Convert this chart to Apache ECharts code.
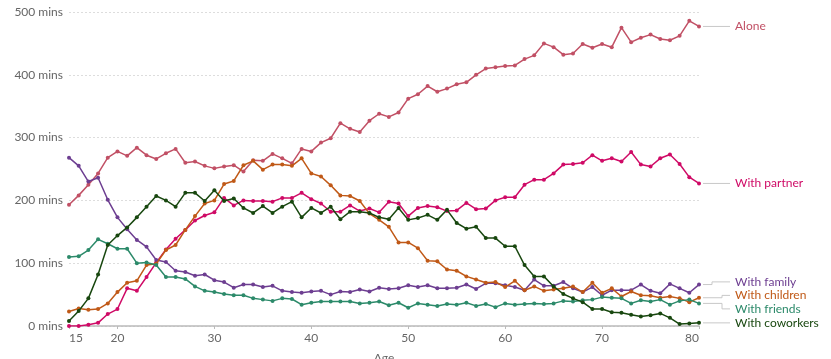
<!DOCTYPE html>
<html><head><meta charset="utf-8">
<script src="https://cdn.jsdelivr.net/npm/echarts@6/dist/echarts.min.js"></script>
<style>html,body{margin:0;padding:0;background:#fff}#c{width:831px;height:359px}</style>
</head><body><div id="c"></div>
<script>
// ---- data ----
const ages = [15,16,17,18,19,20,21,22,23,24,25,26,27,28,29,30,31,32,33,34,35,36,37,38,39,40,41,42,43,44,45,46,47,48,49,50,51,52,53,54,55,56,57,58,59,60,61,62,63,64,65,66,67,68,69,70,71,72,73,74,75,76,77,78,79,80];
const xTickLabels = [15,20,30,40,50,60,70,80];
const yTicks = [0,100,200,300,400,500];

const alone = [193,208,225,243,268,278,271,284,272,266,275,282,260,262,255,251,254,256,246,264,263,274,267,259,282,278,292,299,323,314,309,327,338,333,340,362,369,382,373,378,385,388,400,410,412,414,415,425,431,450,444,432,434,449,443,449,444,475,452,459,464,457,455,462,486,477];
const withPartner = [0,0,2,5,19,27,60,56,78,101,122,139,153,168,176,181,204,192,200,199,199,198,204,204,212,202,195,182,182,192,183,187,181,198,195,175,188,191,189,183,184,196,186,187,200,205,205,225,233,233,243,257,258,260,272,263,267,262,277,257,254,267,273,258,237,227];
const withFamily = [268,255,230,236,201,173,154,137,126,105,102,88,86,80,82,73,70,61,66,66,62,64,56,54,53,55,56,50,55,54,58,55,61,59,60,65,62,65,60,60,61,66,59,68,68,65,62,57,74,64,64,70,60,54,62,49,57,57,57,66,56,52,67,60,53,66];
const withChildren = [23,28,26,27,36,54,69,72,97,99,121,129,153,175,195,200,226,231,256,263,249,257,257,255,267,243,238,224,208,207,199,179,169,158,133,133,124,104,103,90,88,79,74,69,70,62,72,57,63,56,58,60,63,54,69,53,60,47,55,49,48,45,47,44,38,45];
const withFriends = [110,111,121,138,131,123,123,100,101,97,78,78,75,63,56,54,51,49,49,44,42,40,44,43,34,37,39,39,39,39,36,37,39,33,37,29,36,34,32,35,34,37,32,35,30,36,34,35,36,35,36,40,39,41,42,46,45,44,36,41,39,42,34,40,42,36];
const withCoworkers = [8,24,44,82,129,144,157,173,190,207,200,190,212,212,199,216,199,203,188,180,191,180,190,198,173,188,180,190,170,182,182,180,173,170,188,169,172,177,169,185,164,155,158,140,140,127,127,97,79,79,63,51,44,38,27,27,22,21,18,15,17,20,13,3,4,5];

const seriesNames = ['Alone','With partner','With family','With children','With friends','With coworkers'];
const seriesValues = [alone, withPartner, withFamily, withChildren, withFriends, withCoworkers];

// ---- styles ----
const seriesColors = ['#c15065','#cf0a66','#6d3e91','#c05917','#2c8a6a','#18470f'];
const labelElbowX = {'With family':712};
const FONT = 'Lato, "Noto Sans", sans-serif';

const chart = echarts.init(document.getElementById('c'), null, {renderer:'canvas'});

chart.setOption({
  animation:false,
  grid:{left:69, right:132, top:12, bottom:33, containLabel:false, outerBoundsMode:'none'},
  xAxis:{
    type:'value', min:15, max:80,
    name:'Age', nameLocation:'middle', nameGap:26,
    nameTextStyle:{color:'#666', fontSize:12, fontFamily:FONT},
    axisLine:{lineStyle:{color:'#bbb', width:1.5}},
    axisTick:{show:true, customValues:xTickLabels, length:3, lineStyle:{color:'#bbb'}},
    axisLabel:{customValues:xTickLabels, color:'#666', fontSize:12, fontFamily:FONT, margin:6,
      alignMinLabel:'left', alignMaxLabel:'right'},
    splitLine:{show:false}
  },
  yAxis:{
    type:'value', min:0, max:500, interval:100,
    axisLine:{show:false}, axisTick:{show:false},
    axisLabel:{formatter:'{value} mins', color:'#666', fontSize:12, fontFamily:FONT, margin:6},
    splitLine:{lineStyle:{color:'#ddd', type:[2,2], width:1}}
  },
  series: seriesNames.map((name,k)=>({
    type:'line', name:name,
    data: ages.map((a,i)=>[a, seriesValues[k][i]]),
    symbol:'circle', symbolSize:4, showSymbol:true,
    lineStyle:{width:1.5, color:seriesColors[k]},
    itemStyle:{color:seriesColors[k]},
    emphasis:{disabled:true},
    z: 2 + k
  }))
});

// ---- end labels with connectors ----
const last = ages.length - 1;
const xEnd = chart.convertToPixel({gridIndex:0}, [ages[last], 0])[0];
let items = seriesNames.map((name,k)=>{
  const p = chart.convertToPixel({gridIndex:0}, [ages[last], seriesValues[k][last]]);
  return {name, color:seriesColors[k], py:p[1], ly:p[1]};
});
items.sort((a,b)=>a.py-b.py);
const GAP = 13.5;
for (let i=1;i<items.length;i++){
  if (items[i].ly < items[i-1].ly + GAP) items[i].ly = items[i-1].ly + GAP;
}
let start = 0;
for (let i=1;i<=items.length;i++){
  if (i===items.length || items[i].ly - items[i-1].ly > GAP + 0.01){
    if (i - start > 1){
      let m = 0;
      for (let j=start;j<i;j++) m += items[j].ly - items[j].py;
      m /= (i-start);
      for (let j=start;j<i;j++) items[j].ly -= m;
    }
    start = i;
  }
}
const gfx = [];
items.forEach(it=>{
  const x0 = xEnd + 4, x1 = xEnd + 31;
  let pts;
  if (Math.abs(it.ly - it.py) < 0.8) {
    pts = [[x0, it.py],[x1, it.py]];
    it.ly = it.py;
  } else {
    const ex = labelElbowX[it.name] || (xEnd + 23);
    pts = [[x0, it.py],[ex, it.py],[ex, it.ly],[x1, it.ly]];
  }
  gfx.push({type:'polyline', shape:{points:pts}, style:{stroke:'#c8c8c8', lineWidth:1, fill:null}, silent:true});
  gfx.push({type:'text', x:x1 + 5, y:it.ly, style:{text:it.name, fill:it.color, font:'12px ' + FONT, verticalAlign:'middle', align:'left'}, silent:true});
});
chart.setOption({graphic:gfx});
</script>
</body></html>
